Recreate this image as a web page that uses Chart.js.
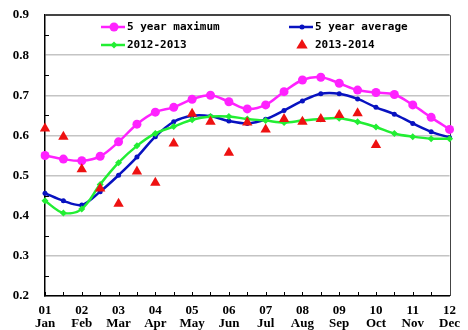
<!DOCTYPE html>
<html>
<head>
<meta charset="utf-8">
<script src="https://cdn.jsdelivr.net/npm/chart.js@4.4.0/dist/chart.umd.min.js"></script>
<style>
  html, body { margin: 0; padding: 0; background: #fff; }
  #wrap { width: 468px; height: 330px; }
</style>
</head>
<body>
<div id="wrap"><canvas id="stockChart"></canvas></div>
<script>
// x axis: month numbers + names, points every half month
const monthNums = ['01', '02', '03', '04', '05', '06', '07', '08', '09', '10', '11', '12'];
const monthNames = ['Jan', 'Feb', 'Mar', 'Apr', 'May', 'Jun', 'Jul', 'Aug', 'Sep', 'Oct', 'Nov', 'Dec'];

// series (23 half-month points, 01 .. 12)
const max5yr = [0.550, 0.541, 0.537, 0.548, 0.584, 0.628, 0.658, 0.670, 0.690, 0.700, 0.684, 0.666,
                0.676, 0.709, 0.738, 0.745, 0.730, 0.713, 0.707, 0.702, 0.676, 0.645, 0.615];
const avg5yr = [0.456, 0.437, 0.427, 0.460, 0.501, 0.546, 0.597, 0.634, 0.649, 0.648, 0.636, 0.630,
                0.640, 0.662, 0.686, 0.704, 0.704, 0.691, 0.670, 0.653, 0.630, 0.609, 0.595];
const season1213 = [0.437, 0.407, 0.417, 0.478, 0.532, 0.574, 0.605, 0.622, 0.639, 0.647, 0.647, 0.641,
                    0.637, 0.632, 0.637, 0.641, 0.643, 0.634, 0.621, 0.605, 0.597, 0.592, 0.592];
const season1314 = [0.617, 0.597, 0.516, 0.468, 0.430, 0.510, 0.482, 0.580, 0.654, 0.634, 0.557, 0.632,
                    0.615, 0.641, 0.634, 0.641, 0.651, 0.655, 0.576, null, null, null, null];

// y axis
const yMin = 0.2;
const yMax = 0.9;
const yStep = 0.1;

// build category labels: month at whole months, blank at half months
const labels = [];
monthNums.forEach(function(n, i) {
  labels.push([n, monthNames[i]]);
  if (i < monthNums.length - 1) labels.push('');
});

// inner tick marks + frame
const frameTicks = {
  id: 'frameTicks',
  beforeDatasetsDraw(chart) {
    const ctx = chart.ctx;
    const area = chart.chartArea;
    const xs = chart.scales.x;
    const ys = chart.scales.y;
    ctx.save();
    ctx.strokeStyle = '#000';
    ctx.lineWidth = 1;
    ctx.beginPath();
    for (let i = 0; i < labels.length; i++) {
      const px = Math.round(xs.getPixelForValue(i)) + 0.5;
      ctx.moveTo(px, area.bottom);
      ctx.lineTo(px, area.bottom - 4);
    }
    for (let v = yMin + yStep / 2; v < yMax; v += yStep) {
      const py = Math.round(ys.getPixelForValue(v)) + 0.5;
      ctx.moveTo(area.left, py);
      ctx.lineTo(area.left + 4, py);
    }
    ctx.stroke();
    // top and right frame
    ctx.strokeStyle = '#444';
    ctx.beginPath();
    ctx.moveTo(area.left, Math.round(area.top) + 0.5);
    ctx.lineTo(Math.round(area.right) + 0.5, Math.round(area.top) + 0.5);
    ctx.lineTo(Math.round(area.right) + 0.5, area.bottom);
    ctx.stroke();
    ctx.restore();
  }
};

// legend drawn inside the plot area, two columns
const innerLegend = {
  id: 'innerLegend',
  afterDatasetsDraw(chart) {
    const ctx = chart.ctx;
    const area = chart.chartArea;
    const cols = [area.left + 56, area.left + 244];
    const rows = [area.top + 12, area.top + 30];
    const place = [[0, 0], [1, 0], [0, 1], [1, 1]];
    ctx.save();
    ctx.font = 'bold 11px "DejaVu Sans Mono"';
    ctx.textBaseline = 'middle';
    chart.data.datasets.forEach(function(ds, i) {
      const x = cols[place[i][0]];
      const y = rows[place[i][1]];
      if (ds.showLine !== false) {
        ctx.strokeStyle = ds.borderColor;
        ctx.lineWidth = ds.borderWidth;
        ctx.beginPath();
        ctx.moveTo(x, y);
        ctx.lineTo(x + 24, y);
        ctx.stroke();
      }
      const mx = x + 13;
      const r = ds.pointRadius;
      ctx.fillStyle = ds.pointBackgroundColor;
      ctx.beginPath();
      if (ds.pointStyle === 'triangle') {
        ctx.moveTo(mx, y - r);
        ctx.lineTo(mx + r * 0.95, y + r * 0.6);
        ctx.lineTo(mx - r * 0.95, y + r * 0.6);
        ctx.closePath();
      } else if (ds.pointStyle === 'rectRot') {
        ctx.moveTo(mx, y - r);
        ctx.lineTo(mx + r, y);
        ctx.lineTo(mx, y + r);
        ctx.lineTo(mx - r, y);
        ctx.closePath();
      } else {
        ctx.arc(mx, y, r, 0, Math.PI * 2);
      }
      ctx.fill();
      ctx.fillStyle = '#000';
      ctx.fillText(ds.label, x + 26, y + 0.5);
    });
    ctx.restore();
  }
};

const serifBold = { family: '"Liberation Serif", "DejaVu Serif", serif', size: 13, weight: 'bold', lineHeight: 1.0 };

new Chart(document.getElementById('stockChart'), {
  type: 'line',
  data: {
    labels: labels,
    datasets: [
      {
        label: '5 year maximum',
        data: max5yr,
        borderColor: '#ff22ff',
        backgroundColor: '#ff22ff',
        borderWidth: 2.5,
        pointStyle: 'circle',
        pointRadius: 4.5,
        pointBackgroundColor: '#ff22ff',
        pointBorderWidth: 0,
        tension: 0.35,
        order: 4
      },
      {
        label: '5 year average',
        data: avg5yr,
        borderColor: '#0812c0',
        backgroundColor: '#0812c0',
        borderWidth: 2.5,
        pointStyle: 'circle',
        pointRadius: 2.5,
        pointBackgroundColor: '#0812c0',
        pointBorderWidth: 0,
        tension: 0.35,
        order: 3
      },
      {
        label: '2012-2013',
        data: season1213,
        borderColor: '#22ee33',
        backgroundColor: '#22ee33',
        borderWidth: 2.5,
        pointStyle: 'rectRot',
        pointRadius: 3.5,
        pointBackgroundColor: '#22ee33',
        pointBorderWidth: 0,
        tension: 0.35,
        order: 2
      },
      {
        label: '2013-2014',
        data: season1314,
        showLine: false,
        borderColor: '#ee1111',
        backgroundColor: '#ee1111',
        pointStyle: 'triangle',
        pointRadius: 6,
        pointBackgroundColor: '#ee1111',
        pointBorderColor: '#ee1111',
        pointBorderWidth: 0,
        order: 1
      }
    ]
  },
  options: {
    responsive: true,
    maintainAspectRatio: false,
    animation: false,
    layout: { padding: { left: 0, right: 10, top: 15, bottom: 0 } },
    plugins: {
      legend: { display: false },
      tooltip: { enabled: false }
    },
    scales: {
      x: {
        type: 'category',
        offset: false,
        grid: { display: false, drawTicks: false },
        border: { color: '#000', width: 1.5 },
        ticks: {
          autoSkip: false,
          maxRotation: 0,
          padding: 8,
          color: '#000',
          font: serifBold
        },
        afterFit(scale) { scale.height = 34; }
      },
      y: {
        min: yMin,
        max: yMax,
        grid: {
          drawTicks: false,
          color: function(c) { return c.tick.value >= yMax - 0.001 ? '#444' : '#c4c4c4'; },
          lineWidth: 1.5
        },
        border: { color: '#000', width: 1.5 },
        ticks: {
          stepSize: yStep,
          padding: 16,
          color: '#000',
          font: serifBold,
          callback: function(v) { return Number(v).toFixed(1); }
        },
        afterFit(scale) {
          scale.width = 45;
          scale.paddingTop = 7;
          scale.paddingBottom = 7;
        }
      }
    }
  },
  plugins: [frameTicks, innerLegend]
});
</script>
</body>
</html>
